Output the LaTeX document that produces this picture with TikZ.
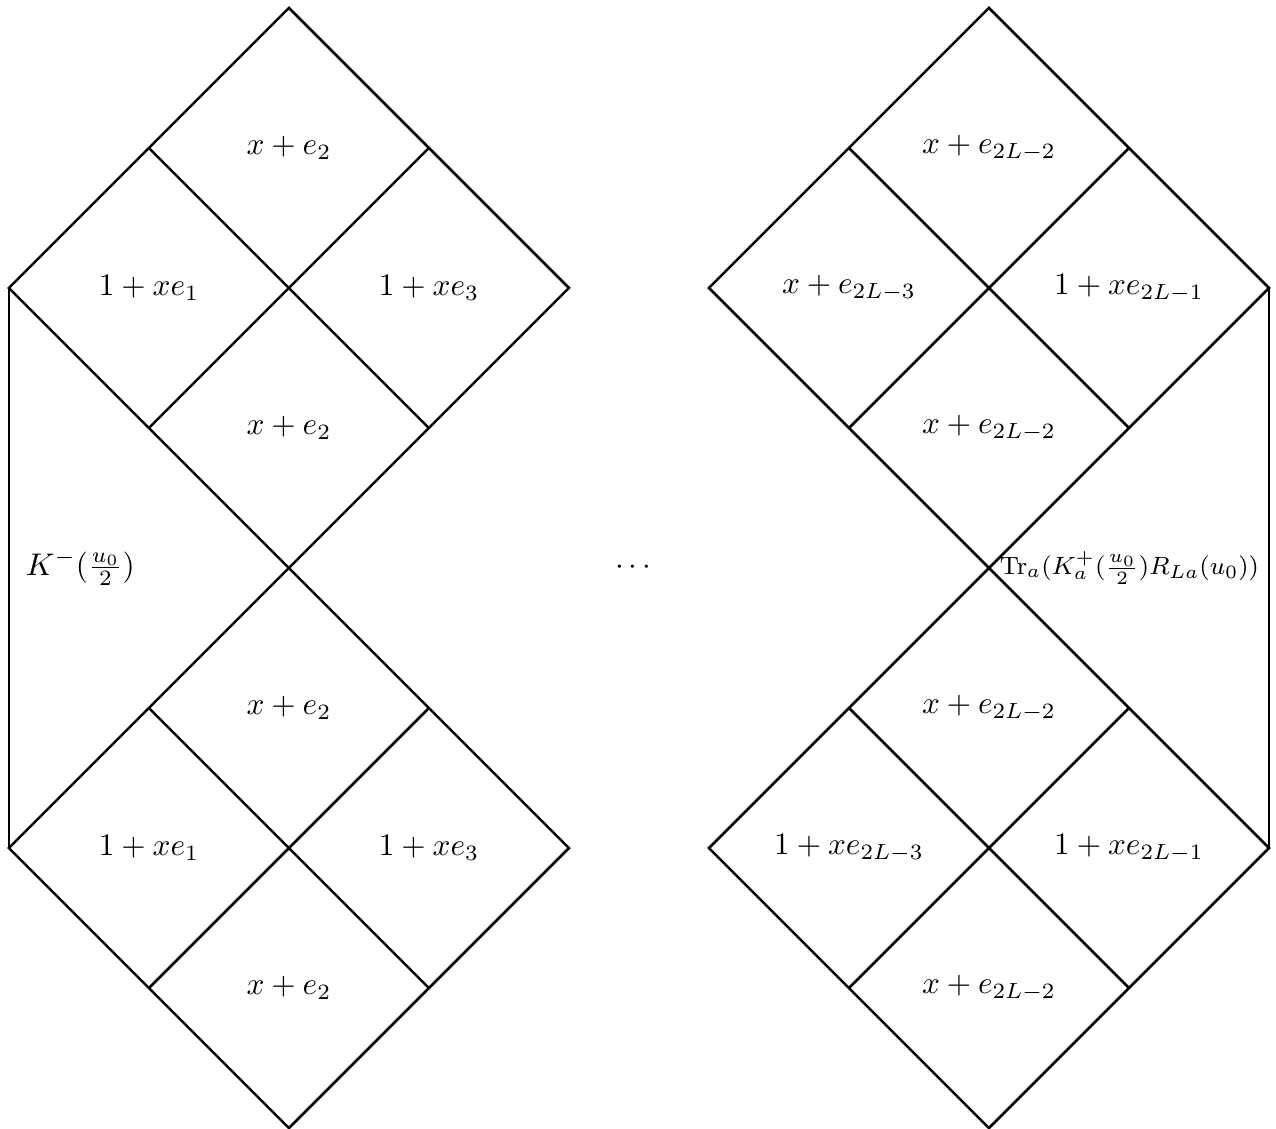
\documentclass[tikz,border=0pt]{standalone}
\usetikzlibrary{positioning}
\tikzset{
  edge/.style={
    thick,
    draw=black
  },
  lab/.style={
    font=\normalsize,
    inner sep=3pt
  },
  bdry/.style={
    font=\footnotesize,
    inner sep=3pt
  }
}

\begin{document}
\begin{tikzpicture}[x=1.572cm,y=1.572cm]

\useasboundingbox (-0.064,-4) rectangle (9.05,4.057);

% corners of the four blocks
\coordinate (ltop) at (2,4);
\coordinate (lmid) at (2,0);
\coordinate (lbot) at (2,-4);
\coordinate (lwu) at (0,2);
\coordinate (leu) at (4,2);
\coordinate (lwd) at (0,-2);
\coordinate (led) at (4,-2);

\coordinate (rtop) at (7,4);
\coordinate (rmid) at (7,0);
\coordinate (rbot) at (7,-4);
\coordinate (rwu) at (5,2);
\coordinate (reu) at (9,2);
\coordinate (rwd) at (5,-2);
\coordinate (red) at (9,-2);

% left column
\draw[edge] (ltop) -- (leu) -- (lmid) -- (lwu) -- cycle;
\draw[edge] (1,3) -- (3,1);
\draw[edge] (3,3) -- (1,1);
\draw[edge] (lmid) -- (led) -- (lbot) -- (lwd) -- cycle;
\draw[edge] (1,-1) -- (3,-3);
\draw[edge] (3,-1) -- (1,-3);
\draw[edge] (lwu) -- (lwd);

% right column
\draw[edge] (rtop) -- (reu) -- (rmid) -- (rwu) -- cycle;
\draw[edge] (6,3) -- (8,1);
\draw[edge] (8,3) -- (6,1);
\draw[edge] (rmid) -- (red) -- (rbot) -- (rwd) -- cycle;
\draw[edge] (6,-1) -- (8,-3);
\draw[edge] (8,-1) -- (6,-3);
\draw[edge] (reu) -- (red);

% weights, left
\node[lab] (lu1) at (2,3) {$x+e_2$};
\node[lab] (lu2) at (1,2) {$1+xe_1$};
\node[lab] (lu3) at (3,2) {$1+xe_3$};
\node[lab] (lu4) at (2,1) {$x+e_2$};
\node[lab] (ld1) at (2,-1) {$x+e_2$};
\node[lab] (ld2) at (1,-2) {$1+xe_1$};
\node[lab] (ld3) at (3,-2) {$1+xe_3$};
\node[lab] (ld4) at (2,-3) {$x+e_2$};

% weights, right
\node[lab] (ru1) at (7,3) {$x+e_{2L-2}$};
\node[lab] (ru2) at (6,2) {$x+e_{2L-3}$};
\node[lab] (ru3) at (8,2) {$1+xe_{2L-1}$};
\node[lab] (ru4) at (7,1) {$x+e_{2L-2}$};
\node[lab] (rd1) at (7,-1) {$x+e_{2L-2}$};
\node[lab] (rd2) at (6,-2) {$1+xe_{2L-3}$};
\node[lab] (rd3) at (8,-2) {$1+xe_{2L-1}$};
\node[lab] (rd4) at (7,-3) {$x+e_{2L-2}$};

% boundaries
\node[lab] (kminus) at (0.51,0) {$K^-(\frac{u_0}{2})$};
\node[lab] (dots) at (4.46,0) {$\cdots$};
\node[bdry, anchor=east] (kplus) at (9,0) {$\mathrm{Tr}_a(K_a^+(\frac{u_0}{2})R_{La}(u_0))$};

\end{tikzpicture}
\end{document}
